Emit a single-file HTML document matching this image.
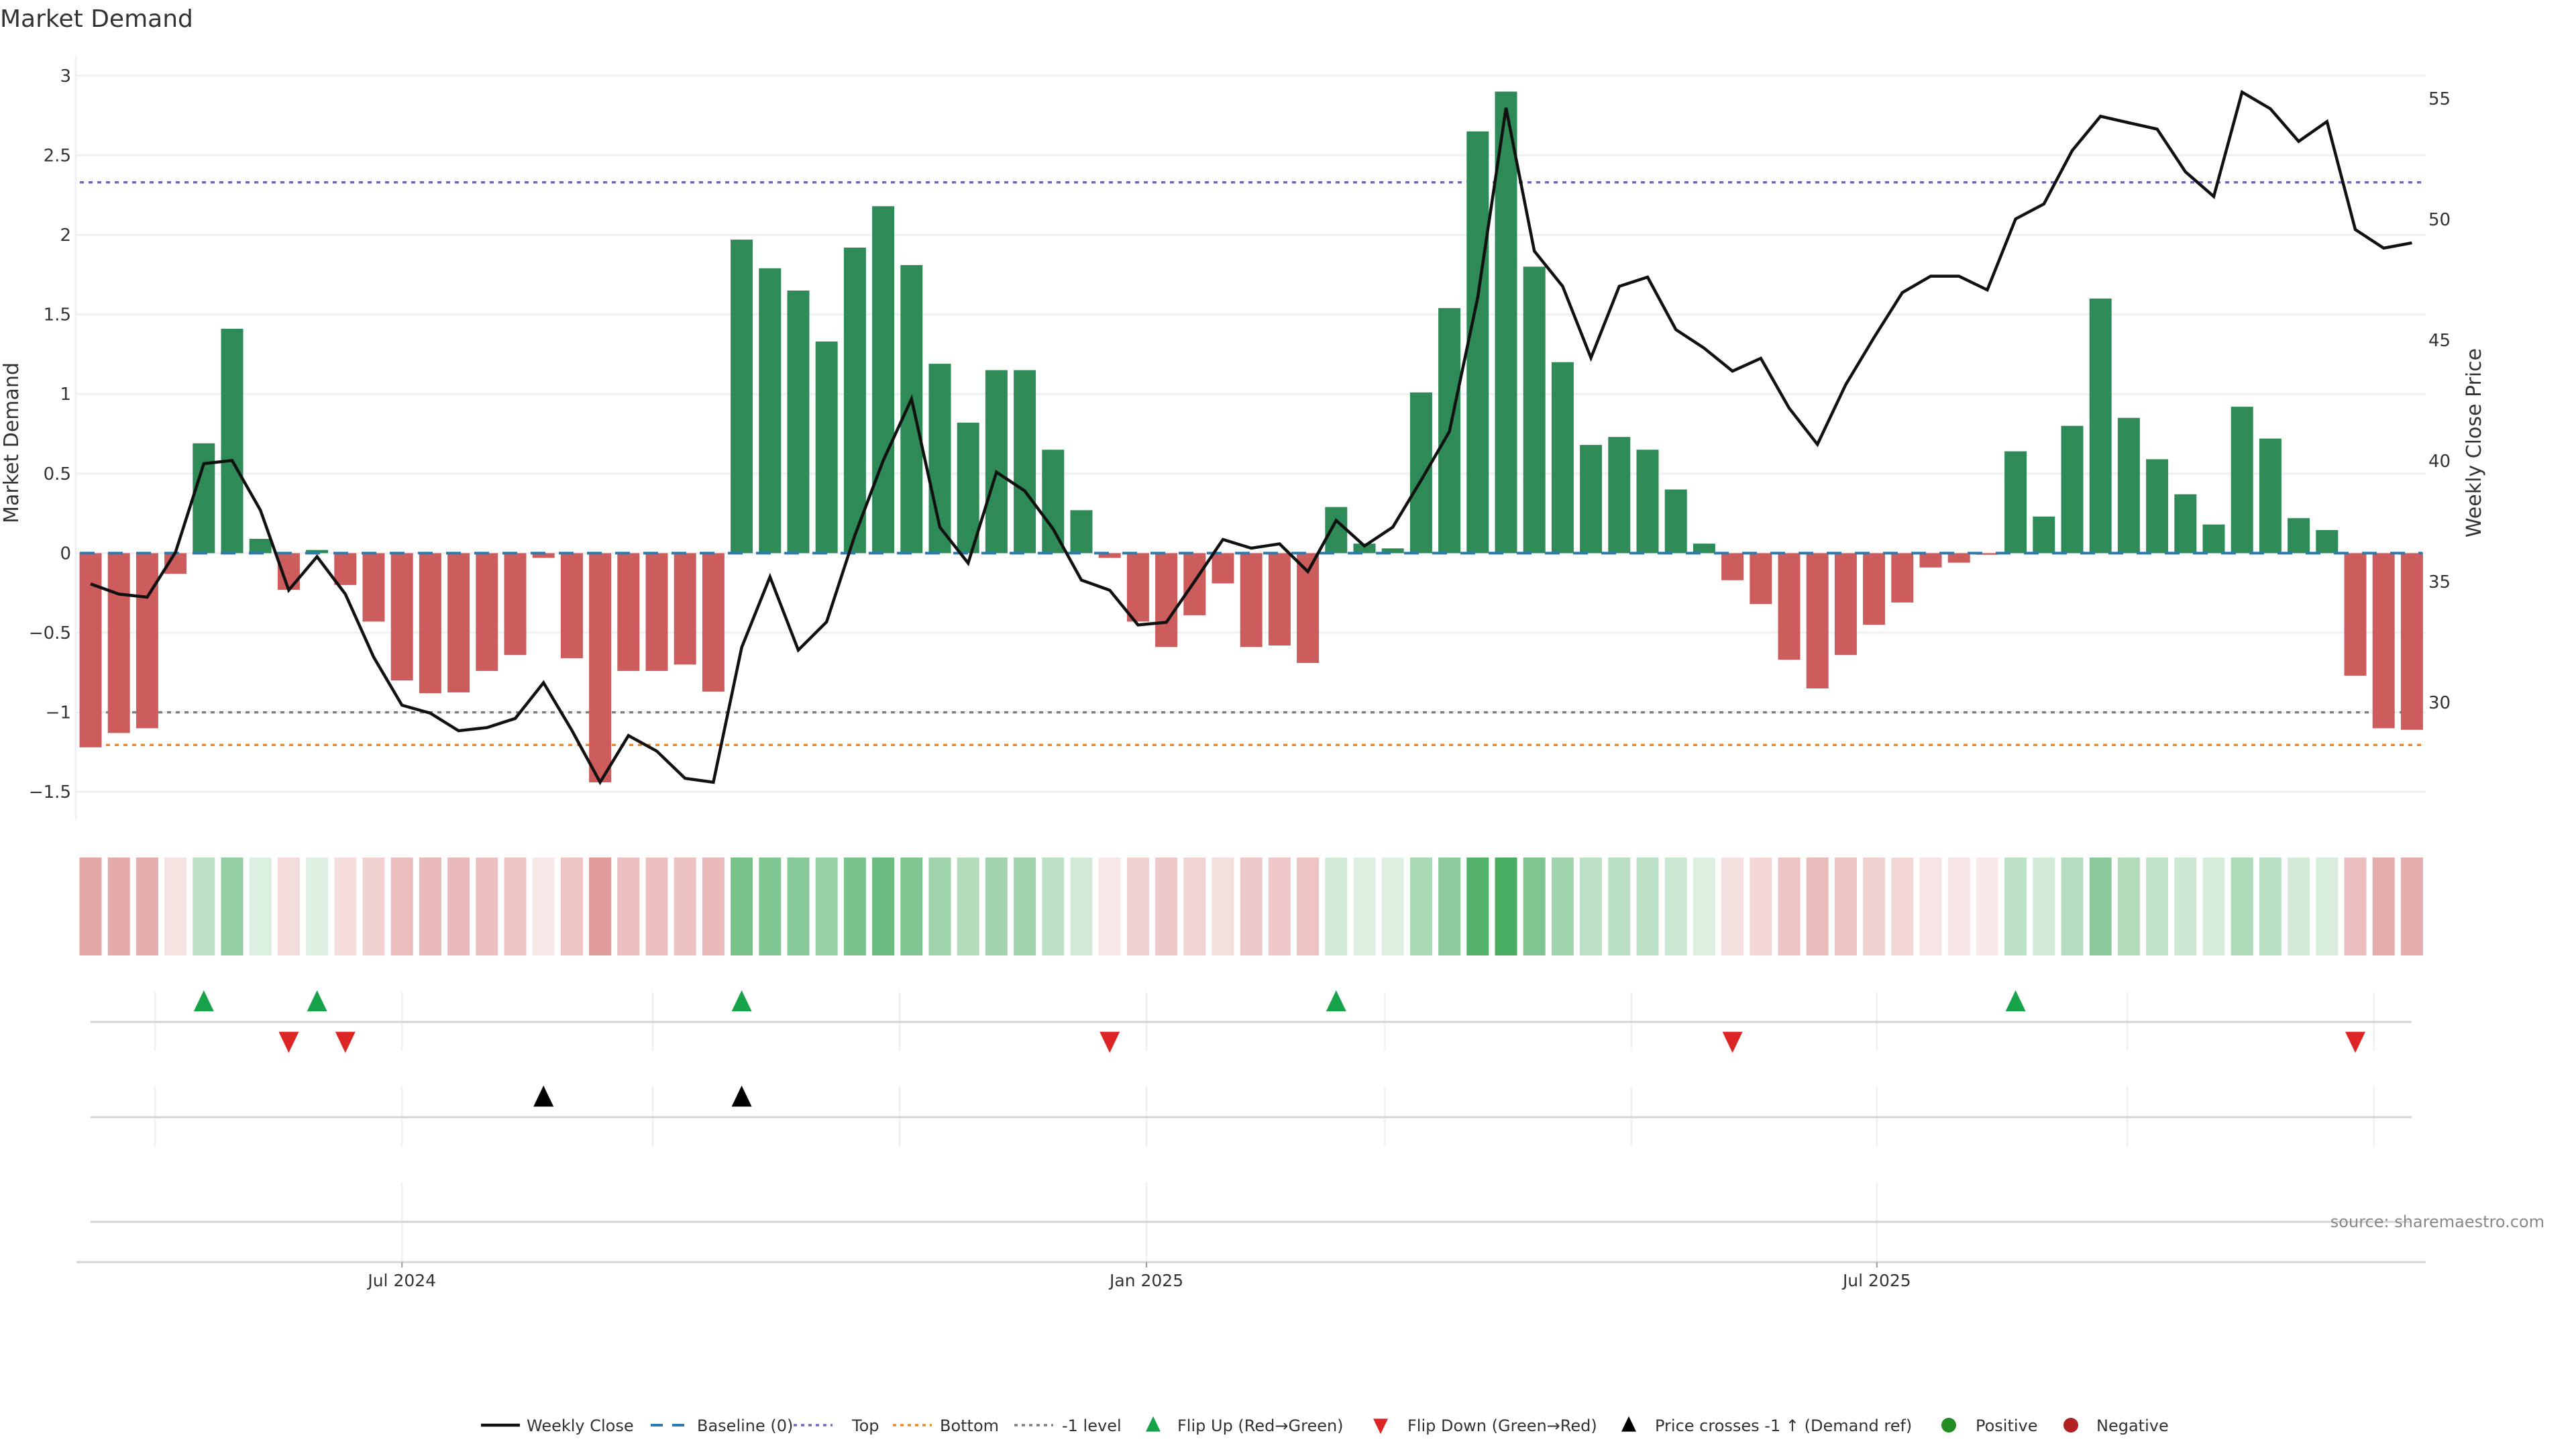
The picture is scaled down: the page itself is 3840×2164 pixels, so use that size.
<!DOCTYPE html>
<html><head><meta charset="utf-8"><style>
html,body{margin:0;padding:0;background:#fff;}
body{width:3840px;height:2160px;overflow:hidden;font-family:"DejaVu Sans","Liberation Sans",sans-serif;}
svg text{font-family:"DejaVu Sans","Liberation Sans",sans-serif;}
</style></head><body>
<svg id="chart" width="3840" height="2160" viewBox="0 0 3840 2160" xmlns="http://www.w3.org/2000/svg">
<text x="0" y="40" font-size="36" fill="#333">Market Demand</text>
<g id="grid"></g><g id="refs"></g><g id="bars"></g><g id="line"></g><g id="heat"></g><g id="events"></g><g id="axes"></g><g id="legend"></g>
</svg>
<script>
const demand=[-1.22,-1.13,-1.10,-0.13,0.69,1.41,0.09,-0.23,0.02,-0.20,-0.43,-0.80,-0.88,-0.875,-0.74,-0.64,-0.03,-0.66,-1.44,-0.74,-0.74,-0.70,-0.87,1.97,1.79,1.65,1.33,1.92,2.18,1.81,1.19,0.82,1.15,1.15,0.65,0.27,-0.03,-0.43,-0.59,-0.39,-0.19,-0.59,-0.58,-0.69,0.29,0.06,0.03,1.01,1.54,2.65,2.90,1.80,1.20,0.68,0.73,0.65,0.40,0.06,-0.17,-0.32,-0.67,-0.85,-0.64,-0.45,-0.31,-0.09,-0.06,-0.01,0.64,0.23,0.80,1.60,0.85,0.59,0.37,0.18,0.92,0.72,0.22,0.145,-0.77,-1.10,-1.11];
const price=[34.91,34.49,34.36,36.22,39.89,40.02,37.96,34.65,36.04,34.49,31.88,29.89,29.56,28.83,28.96,29.34,30.82,28.85,26.70,28.63,27.99,26.86,26.70,32.28,35.20,32.17,33.34,36.93,40.02,42.57,37.26,35.77,39.54,38.76,37.19,35.07,34.65,33.21,33.32,35.02,36.75,36.39,36.57,35.42,37.54,36.48,37.26,39.20,41.22,46.77,54.62,48.69,47.23,44.27,47.23,47.61,45.44,44.67,43.72,44.25,42.19,40.69,43.16,45.11,46.97,47.65,47.65,47.08,50.02,50.64,52.85,54.27,54.0,53.74,51.97,50.95,55.27,54.58,53.23,54.05,49.58,48.81,49.03];
const flipUp=[4,8,23,44,68];
const flipDown=[7,9,36,58,80];
const priceCross=[16,23];
const leftTicks=[3,2.5,2,1.5,1,0.5,0,-0.5,-1,-1.5];
const rightTicks=[55,50,45,40,35,30];
const refTop=2.33, refBottom=-1.205, refMinus1=-1;
const xTickLabels=["Jul 2024","Jan 2025","Jul 2025"];
const xTickWeek=[11.0,37.3,63.1];
const monthGridWeek=[2.28,11.0,19.86,28.58,37.3,45.72,54.43,63.1,71.95,80.66];

const NS="http://www.w3.org/2000/svg";
const X0=135,DX=42.2,BW=33,L=113,R=3616;
const xs=i=>X0+i*DX;
const yL=v=>824.4-v*237.2;
const yR=p=>147+(55-p)*36.0;
function mk(tag,attrs,parent){const e=document.createElementNS(NS,tag);for(const k in attrs)e.setAttribute(k,attrs[k]);document.getElementById(parent).appendChild(e);return e;}

leftTicks.forEach(t=>{const g=mk('line',{x1:L,x2:R,y1:yL(t),y2:yL(t),stroke:'#eef0f3','stroke-width':3},'grid');


const tx=mk('text',{x:106,y:yL(t)+9,'text-anchor':'end','font-size':26,fill:'#333'},'axes');tx.textContent=(t<0?'\u2212'+Math.abs(t):String(t));

});
rightTicks.forEach(t=>{const tx=mk('text',{x:3620,y:yR(t)+9,'font-size':26,fill:'#333'},'axes');tx.textContent=String(t);

});
const ax=mk('line',{x1:L,x2:L,y1:83,y2:1222,stroke:'#eef0f3','stroke-width':3},'axes');


let yt=mk('text',{x:0,y:0,'font-size':30,fill:'#333','text-anchor':'middle',transform:'translate(27,660) rotate(-90)'},'axes');yt.textContent='Market Demand';


let yt2=mk('text',{x:0,y:0,'font-size':30,fill:'#333','text-anchor':'middle',transform:'translate(3698,660) rotate(-90)'},'axes');yt2.textContent='Weekly Close Price';



demand.forEach((v,i)=>{const y=Math.min(yL(v),yL(0));const h=Math.abs(yL(v)-yL(0));
const b=mk('rect',{x:xs(i)-BW/2,y:y,width:BW,height:Math.max(h,0.5),fill:v>=0?'#2e8b57':'#cd5c5c'},'bars');


const a=v>=0?Math.min(0.92,0.16+0.27*Math.abs(v)):Math.min(0.9,0.14+0.33*Math.abs(v));
const c=mk('rect',{x:xs(i)-BW/2,y:1278,width:BW,height:146,fill:v>=0?'#3aa655':'#cd5c5c','fill-opacity':a.toFixed(3)},'heat');

});

function ref(v,color,dash,name,w){const l=mk('line',{x1:xs(0)-16,x2:xs(demand.length-1)+16,y1:yL(v),y2:yL(v),stroke:color,'stroke-width':w,'stroke-dasharray':dash},'refs');

}
ref(refTop,'#7566c0','6 7','top-line',3.5);
ref(refMinus1,'#808080','6 7','minus-one-level-line',3.5);
ref(refBottom,'#ee8a2a','6 7','bottom-line',3.5);
const bl=mk('line',{x1:xs(0)-16,x2:xs(demand.length-1)+16,y1:yL(0),y2:yL(0),stroke:'#2b7bb0','stroke-width':4,'stroke-dasharray':'22 20'},'line');



const pl=mk('polyline',{points:price.map((p,i)=>xs(i).toFixed(1)+','+yR(p).toFixed(1)).join(' '),fill:'none',stroke:'#111','stroke-width':4.5,'stroke-linejoin':'miter'},'line');



function hl(y,x1,x2,name){const l=mk('line',{x1:x1,x2:x2,y1:y,y2:y,stroke:'#d4d4d4','stroke-width':3},'events');

}
monthGridWeek.forEach(w=>{const x=xs(w);
[[1479,1566],[1619,1709]].forEach(r=>{const g=mk('line',{x1:x,x2:x,y1:r[0],y2:r[1],stroke:'#eef0f3','stroke-width':2.5},'events');

});});
xTickWeek.forEach(w=>{const g=mk('line',{x1:xs(w),x2:xs(w),y1:1762,y2:1881,stroke:'#eef0f3','stroke-width':2.5},'events');

});
hl(1523,135,3595,'flip-row-line');hl(1665,135,3595,'cross-row-line');hl(1821,135,3595,'empty-row-line');
hl(1881,114,3616,'x-axis-line');
function tri(x,y,up,color,name,s){const h=s*1.1;const pts=up?`${x-s},${y+h*0.8} ${x+s},${y+h*0.8} ${x},${y-h*1.1}`:`${x-s},${y-h*0.8} ${x+s},${y-h*0.8} ${x},${y+h*1.1}`;
const t=mk('polygon',{points:pts,fill:color},'events');

}
flipUp.forEach(i=>tri(xs(i),1494,true,'#17a34a','flip-up-marker',15));
flipDown.forEach(i=>tri(xs(i),1551,false,'#dc2626','flip-down-marker',15));
priceCross.forEach(i=>tri(xs(i),1636,true,'#000','price-cross-marker',15));
xTickLabels.forEach((s,k)=>{const x=xs(xTickWeek[k]);
const tk=mk('line',{x1:x,x2:x,y1:1881,y2:1889,stroke:'#999','stroke-width':2},'axes');


const t=mk('text',{x:x,y:1917,'text-anchor':'middle','font-size':25,fill:'#333'},'axes');t.textContent=s;

});
const src=mk('text',{x:3793,y:1829,'text-anchor':'end','font-size':24,fill:'#888'},'axes');src.textContent='source: sharemaestro.com';



const LY=2124;
function ltxt(x,s){const t=mk('text',{x:x,y:LY+9,'font-size':24,fill:'#333'},'legend');t.textContent=s;

}
function lline(x,color,dash,w){const l=mk('line',{x1:x,x2:x+58,y1:LY,y2:LY,stroke:color,'stroke-width':w,'stroke-dasharray':dash},'legend');

}
lline(717,'#111','none',4.5);ltxt(785,'Weekly Close');
lline(970,'#2b7bb0','18 14',4);ltxt(1039,'Baseline (0)');
lline(1183,'#7566c0','5 6',3.5);ltxt(1270,'Top');
lline(1331,'#ee8a2a','5 6',3.5);ltxt(1401,'Bottom');
lline(1512,'#808080','5 6',3.5);ltxt(1583,'-1 level');
tri(1719,LY,true,'#17a34a','legend-flip-up',11);ltxt(1755,'Flip Up (Red\u2192Green)');
tri(2058,LY,false,'#dc2626','legend-flip-down',11);ltxt(2098,'Flip Down (Green\u2192Red)');
tri(2428,LY,true,'#000','legend-price-cross',11);ltxt(2467,'Price crosses -1 \u2191 (Demand ref)');
const c1=mk('circle',{cx:2905,cy:LY,r:11,fill:'#228b22'},'legend');


ltxt(2945,'Positive');
const c2=mk('circle',{cx:3087,cy:LY,r:11,fill:'#b22222'},'legend');


ltxt(3125,'Negative');
</script>
</body></html>
